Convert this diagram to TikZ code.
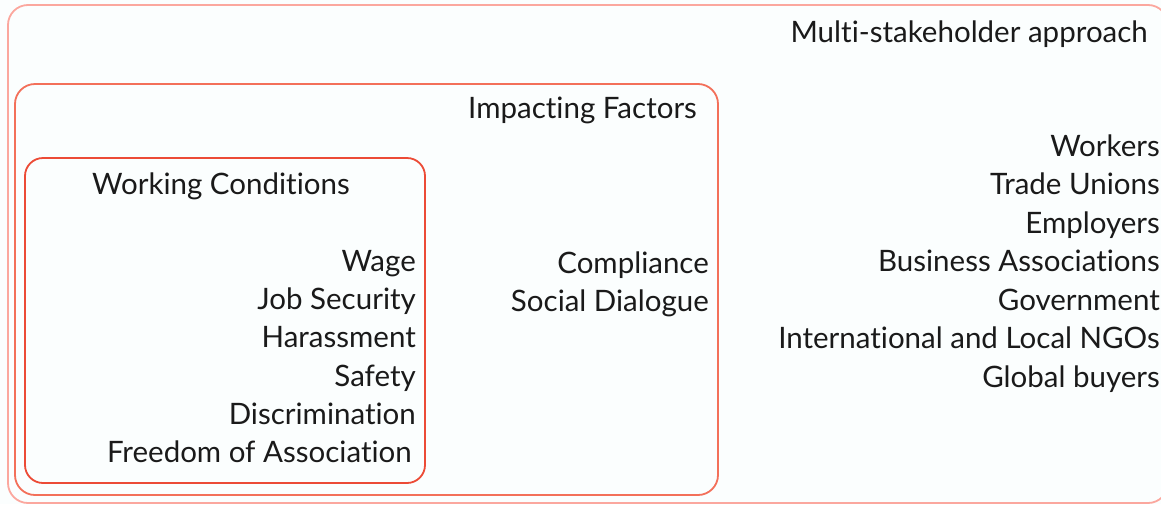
\documentclass[tikz,border=0pt]{standalone}
\usepackage{fontspec}
\setmainfont{Lato}[Ligatures=NoCommon]
\definecolor{outerc}{HTML}{FBA79E}
\definecolor{midc}{HTML}{F3705A}
\definecolor{innerc}{HTML}{EC4B36}
\definecolor{bg}{HTML}{FBFEFE}
\definecolor{txt}{HTML}{1A1A1A}
\tikzset{
  box/.style={line width=1.8pt, rounded corners=20pt},
  lbl/.style={inner sep=0pt, text=txt, font=\fontsize{29.5}{34}\selectfont},
  rl/.style={lbl, anchor=base east},
  ll/.style={lbl, anchor=base west}
}
\begin{document}
\begin{tikzpicture}[x=1pt,y=-1pt]
\useasboundingbox (0,0) rectangle (1161,504);
\fill[bg] (0,0) rectangle (1161,504);
\draw[box, outerc] (8,5) rectangle (1168,503);
\draw[box, midc] (15,84) rectangle (718,495);
\draw[box, innerc, rounded corners=18pt] (25,158) rectangle (425,483);
\node[rl] (msa) at (1148,42) {Multi-stakeholder approach};
\node[rl] (imp) at (697,118) {Impacting Factors};
\node[ll] (wc) at (92,194) {Working Conditions};
\node[rl] (w1) at (416,271) {Wage};
\node[rl] (w2) at (416,309) {Job Security};
\node[rl] (w3) at (416,347) {Harassment};
\node[rl] (w4) at (416,386) {Safety};
\node[rl] (w5) at (416,424) {Discrimination};
\node[rl] (w6) at (412,462) {Freedom of Association};
\node[rl] (c1) at (709,273) {Compliance};
\node[rl] (c2) at (709,311) {Social Dialogue};
\node[rl] (s1) at (1160,156) {Workers};
\node[rl] (s2) at (1160,194) {Trade Unions};
\node[rl] (s3) at (1160,233) {Employers};
\node[rl] (s4) at (1160,271) {Business Associations};
\node[rl] (s5) at (1160,310) {Government};
\node[rl] (s6) at (1160,348) {International and Local NGOs};
\node[rl] (s7) at (1160,387) {Global buyers};
\end{tikzpicture}
\end{document}
